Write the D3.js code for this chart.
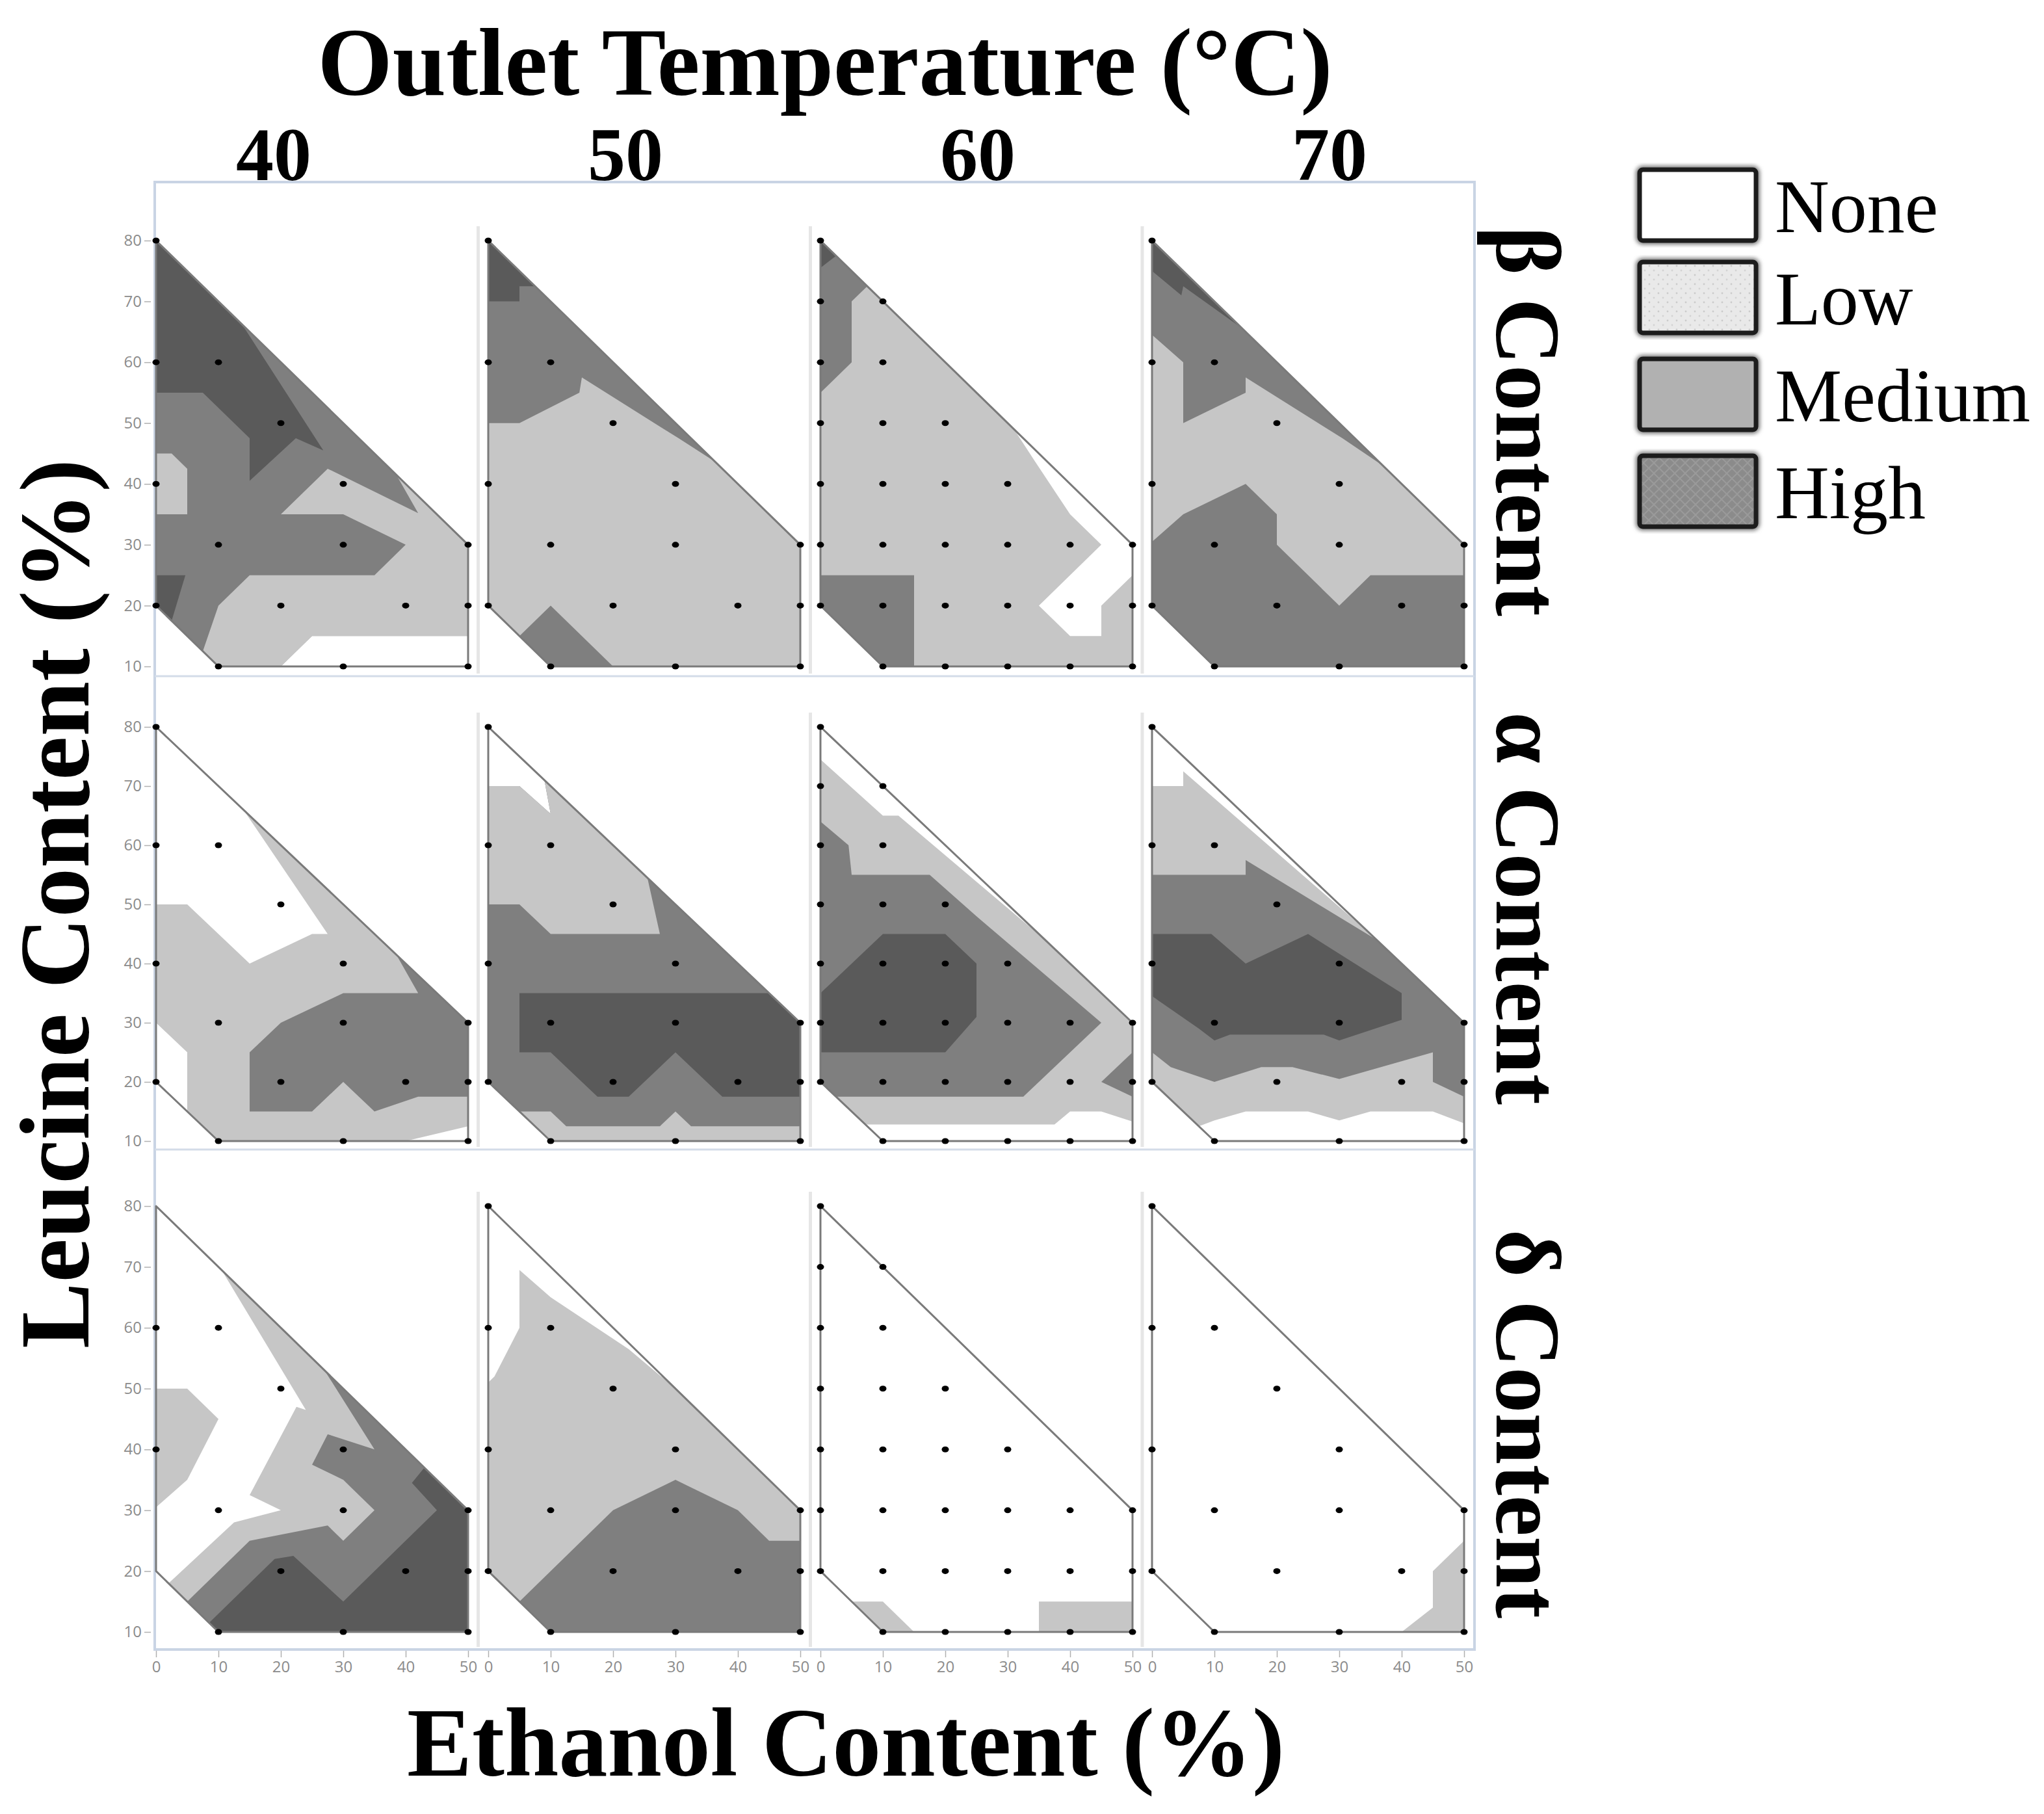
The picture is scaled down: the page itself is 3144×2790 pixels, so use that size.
<!DOCTYPE html>
<html>
<head>
<meta charset="utf-8">
<script src="https://cdn.jsdelivr.net/npm/d3@7"></script>
<style>
  body { margin: 0; background: #fff; }
</style>
</head>
<body>
<div id="chart"></div>
<script>
// ---- data ----
var levels = ["None", "Low", "Medium", "High"];
var temperatures = ["40", "50", "60", "70"];
var contents = ["\u03b2 Content", "\u03b1 Content", "\u03b4 Content"];
var ethanolTicks = [0, 10, 20, 30, 40, 50];
var leucineTicks = [10, 20, 30, 40, 50, 60, 70, 80];

// feasible design region (ethanol %, leucine %)
var feasibleRegion = [[0,80],[50,30],[50,10],[10,10],[0,20]];

// design points
var designSparse = [[0,80],[0,60],[10,60],[20,50],[0,40],[30,40],[10,30],[30,30],[50,30],
                    [0,20],[20,20],[40,20],[50,20],[10,10],[30,10],[50,10]];
var designDelta40 = [[0,60],[10,60],[20,50],[0,40],[30,40],[10,30],[30,30],[50,30],
                     [20,20],[40,20],[50,20],[10,10],[30,10],[50,10]];
var designFull = [[0,80],[0,70],[10,70],[0,60],[10,60],[0,50],[10,50],[20,50],
                  [0,40],[10,40],[20,40],[30,40],
                  [0,30],[10,30],[20,30],[30,30],[40,30],[50,30],
                  [0,20],[10,20],[20,20],[30,20],[40,20],[50,20],
                  [10,10],[20,10],[30,10],[40,10],[50,10]];

// contour layers, painted in order: [level, polygon]
var beta40 = [
  ["Medium", feasibleRegion],
  ["Low", [[27.5,42.5],[20,35],[30,35],[40,30],[35,25],[15,25],[10,20],[7.5,12.5],[10,10],[20,10],[25,15],[50,15],[50,30],[38.5,41.5],[42,35.2]]],
  ["Low", [[0,45],[2.5,45],[5,42.5],[5,35],[0,35]]],
  ["None", [[20,10],[25,15],[50,15],[50,10]]],
  ["High", [[0,80],[13.8,66.2],[26.8,45.5],[22.4,47.5],[15,40.5],[15,47.5],[7.5,55],[0,55]]],
  ["High", [[0,25],[4.7,25],[2.5,17.5],[0,20]]]
];
var beta50 = [
  ["Low", feasibleRegion],
  ["Medium", [[0,80],[36.4,43.6],[30.5,47.5],[15,57.5],[14.6,55],[5,50],[0,50]]],
  ["High", [[0,80],[7.5,72.5],[5,72.5],[5,70],[0,70]]],
  ["Medium", [[5,15],[10,20],[20,10],[10,10]]]
];
var beta60 = [
  ["Low", feasibleRegion],
  ["Medium", [[0,80],[7.5,72.5],[5,70],[5,60],[0,55]]],
  ["High", [[0,80],[0,75.5],[2.5,77.5]]],
  ["Medium", [[0,25],[15,25],[15,10],[10,10],[0,20]]],
  ["None", [[31,49],[34.5,43.5],[40,35],[45,30],[35,20],[40,15],[45,15],[45,20],[50,25],[50,30]]]
];
var beta70 = [
  ["Medium", feasibleRegion],
  ["Low", [[0,64.5],[5,60],[5,50],[15,55],[15,57.5],[30.5,47.5],[37,43],[50,30],[50,25],[35,25],[30,20],[20,30],[20,35],[15,40],[5,35],[0,30.5]]],
  ["High", [[0,80],[0,75],[4.7,71],[5,72.5],[14.4,65.6]]]
];
var alpha40 = [
  ["None", feasibleRegion],
  ["Low", [[0,50],[5,50],[15,40],[25,45],[27.5,45],[14,66],[50,30],[50,12.5],[40,10],[10,10],[5,15],[5,25],[0,30]]],
  ["Medium", [[38.5,41.5],[42,35],[30,35],[20,30],[15,25],[15,15],[25,15],[30,20],[35,15],[42,17.5],[50,17.5],[50,30]]]
];
var alpha50 = [
  ["Medium", feasibleRegion],
  ["None", [[0,80],[0,70],[5,70],[10,65.3],[9,71]]],
  ["Low", [[0,70],[5,70],[10,65.3],[9,71],[25.5,54.5],[27.5,45],[10,45],[5,50],[0,50]]],
  ["High", [[5,35],[45,35],[50,30],[50,17.5],[37.5,17.5],[30,25],[22.5,17.5],[17.5,17.5],[10,25],[5,25]]],
  ["Low", [[5,15],[10,15],[12.5,12.5],[27.5,12.5],[30,15],[32.5,12.5],[50,12.5],[50,10],[10,10]]]
];
var alpha60 = [
  ["None", feasibleRegion],
  ["Low", [[0,74.5],[10,65],[12.5,65],[36,44],[50,30],[50,13.3],[45,15],[40,15],[37.5,12.8],[7.2,12.8],[0,20]]],
  ["Medium", [[0,64],[4.5,60],[5,55],[17.5,55],[25,48],[45,30],[32.5,17.5],[2.5,17.5],[0,20]]],
  ["Medium", [[45,20],[50,25],[50,17.5]]],
  ["High", [[0,35],[10,45],[20,45],[25,40],[25,31],[20,25],[0,25]]]
];
var alpha70 = [
  ["None", feasibleRegion],
  ["Low", [[0,70],[5,70],[5,72.5],[35,45],[50,30],[50,13],[45,15],[35,15],[30,13.5],[25,15],[15,15],[10,13.5],[7.5,12.5],[0,20]]],
  ["Medium", [[0,55],[15,55],[15,57.5],[36,44],[50,30],[50,17.5],[45,20],[45,25],[30,20.5],[22.5,22.5],[17.5,22.5],[10,20],[3,22.5],[0,25]]],
  ["High", [[0,45],[9.5,45],[15,40],[25,45],[40,35],[40,30.5],[30,27],[27.5,28],[12.5,28],[10,27],[7.5,29],[0,34.5]]]
];
var delta40 = [
  ["None", feasibleRegion],
  ["Low", [[0,50],[5,50],[10,45],[5,35],[0,30.5]]],
  ["Low", [[10.5,69.5],[24,46.5],[22.5,47],[15,32.5],[20,30],[12.5,28],[2,18],[10,10],[50,10],[50,30]]],
  ["Medium", [[27,53],[35,40],[27.5,42.5],[25,37.5],[30,35],[35,30],[30,25],[27.5,27.5],[15,25],[5,15],[10,10],[50,10],[50,30]]],
  ["High", [[8.5,11.5],[19,22],[22,22.5],[30,15],[45,30],[41,34.5],[43,37],[50,30],[50,10],[10,10]]]
];
var delta50 = [
  ["None", feasibleRegion],
  ["Low", [[0,51],[1,52],[5,60],[5,69.5],[10,65],[22.5,56.5],[30,50],[50,30],[50,10],[10,10],[0,20]]],
  ["Medium", [[5,15],[20,30],[30,35],[40,30],[45,25],[50,25],[50,10],[10,10]]]
];
var delta60 = [
  ["None", feasibleRegion],
  ["Low", [[5,15],[10,15],[15,10],[10,10]]],
  ["Low", [[35,15],[50,15],[50,10],[35,10]]]
];
var delta70 = [
  ["None", feasibleRegion],
  ["Low", [[40,10],[45,14],[45,20],[50,25],[50,10]]]
];

var panelLayers = [
  [beta40, beta50, beta60, beta70],
  [alpha40, alpha50, alpha60, alpha70],
  [delta40, delta50, delta60, delta70]
];
var panelDesigns = [
  [designSparse, designSparse, designFull, designSparse],
  [designSparse, designSparse, designFull, designSparse],
  [designDelta40, designSparse, designFull, designSparse]
];

// ---- styles / layout ----
var fillByLevel = { None: "#ffffff", Low: "#c6c6c6", Medium: "#7f7f7f", High: "#5a5a5a" };
var serif = "'Liberation Serif', 'Times New Roman', serif";
var colX0 = [240, 751, 1262, 1772];
var panelW = 480;
var rowY = [[370, 1025], [1118, 1755], [1855, 2510]];   // pixel y of leucine 80 and 10
var frame = { left: 238, right: 2268, top: 280, bottom: 2537 };
var rowLines = [1040, 1768];

var svg = d3.select("#chart")
    .append("svg")
    .attr("width", 3144)
    .attr("height", 2790)
    .style("background", "#fff");

var defs = svg.append("defs");

var lowPat = defs.append("pattern").attr("id", "lowPat")
    .attr("patternUnits", "userSpaceOnUse").attr("width", 14).attr("height", 14);
lowPat.append("rect").attr("width", 14).attr("height", 14).attr("fill", "#e9e9e9");
lowPat.append("circle").attr("cx", 3).attr("cy", 3).attr("r", 1.4).attr("fill", "#cbcbcb");
lowPat.append("circle").attr("cx", 10).attr("cy", 10).attr("r", 1.4).attr("fill", "#d3d3d3");

var highPat = defs.append("pattern").attr("id", "highPat")
    .attr("patternUnits", "userSpaceOnUse").attr("width", 16).attr("height", 16);
highPat.append("rect").attr("width", 16).attr("height", 16).attr("fill", "#8b8b8b");
highPat.append("path").attr("d", "M0,8 L8,0 L16,8 L8,16 Z")
    .attr("fill", "none").attr("stroke", "#9a9a9a").attr("stroke-width", 2);

defs.append("filter").attr("id", "soft")
    .attr("x", "-10%").attr("y", "-10%").attr("width", "120%").attr("height", "120%")
    .append("feGaussianBlur").attr("stdDeviation", 3);

var legendFill = { None: "#ffffff", Low: "url(#lowPat)", Medium: "#b1b1b1", High: "url(#highPat)" };

// outer frame and row separators
svg.append("rect")
    .attr("x", frame.left).attr("y", frame.top)
    .attr("width", frame.right - frame.left).attr("height", frame.bottom - frame.top)
    .attr("fill", "none").attr("stroke", "#c9d4e4").attr("stroke-width", 4);

svg.selectAll(".rowline")
    .data(rowLines)
    .enter()
    .append("line")
    .attr("x1", frame.left).attr("x2", frame.right)
    .attr("y1", function(d) { return d; }).attr("y2", function(d) { return d; })
    .attr("stroke", "#d3dce8").attr("stroke-width", 3);

// faint column separators inside each row
rowY.forEach(function(ry, r) {
    var bottom = r < 2 ? rowLines[r] : frame.bottom;
    [1, 2, 3].forEach(function(c) {
        var xs = (colX0[c - 1] + panelW + colX0[c]) / 2;
        svg.append("line")
            .attr("x1", xs).attr("x2", xs)
            .attr("y1", ry[0] - 22).attr("y2", bottom - 4)
            .attr("stroke", "#e6e6e6").attr("stroke-width", 5);
    });
});

var line = d3.line()
    .x(function(d) { return d.x; })
    .y(function(d) { return d.y; })
    .curve(d3.curveLinearClosed);

panelLayers.forEach(function(rowPanels, r) {
    rowPanels.forEach(function(layers, c) {
        var x = d3.scaleLinear().domain([0, 50]).range([colX0[c], colX0[c] + panelW]);
        var y = d3.scaleLinear().domain([10, 80]).range([rowY[r][1], rowY[r][0]]);
        var toPx = function(pts) {
            return line(pts.map(function(p) { return { x: x(p[0]), y: y(p[1]) }; }));
        };

        var clipId = "clip-" + r + "-" + c;
        defs.append("clipPath").attr("id", clipId)
            .append("path").attr("d", toPx(feasibleRegion));

        var g = svg.append("g").attr("clip-path", "url(#" + clipId + ")");
        g.selectAll(".layer")
            .data(layers)
            .enter()
            .append("path")
            .attr("class", "layer")
            .attr("d", function(d) { return toPx(d[1]); })
            .attr("fill", function(d) { return fillByLevel[d[0]]; });

        svg.append("path")
            .attr("d", toPx(feasibleRegion))
            .attr("fill", "none")
            .attr("stroke", "#7a7a7a")
            .attr("stroke-width", 3)
            .attr("stroke-linejoin", "round");

        svg.append("g").selectAll("ellipse")
            .data(panelDesigns[r][c])
            .enter()
            .append("ellipse")
            .attr("cx", function(d) { return x(d[0]); })
            .attr("cy", function(d) { return y(d[1]); })
            .attr("rx", 5.5)
            .attr("ry", 4.5)
            .attr("fill", "#000");

        if (c === 0) {
            var ya = svg.append("g")
                .attr("transform", "translate(" + (colX0[0] - 8) + ",0)")
                .call(d3.axisLeft(y).tickValues(leucineTicks).tickSize(10).tickPadding(4));
            ya.select(".domain").remove();
            ya.selectAll("line").attr("stroke", "#b0b0b0").attr("stroke-width", 1.5);
            ya.selectAll("text").attr("fill", "#8c8c8c")
                .style("font-family", "'Open Sans', sans-serif").style("font-size", "24px");
        }
        if (r === 2) {
            var xa = svg.append("g")
                .attr("transform", "translate(0," + (frame.bottom + 2) + ")")
                .call(d3.axisBottom(x).tickValues(ethanolTicks).tickSize(10).tickPadding(6));
            xa.select(".domain").remove();
            xa.selectAll("line").attr("stroke", "#b0b0b0").attr("stroke-width", 1.5);
            xa.selectAll("text").attr("fill", "#8c8c8c")
                .style("font-family", "'Open Sans', sans-serif").style("font-size", "24px");
        }
    });
});

// titles
svg.append("text")
    .attr("x", 1269).attr("y", 146)
    .attr("text-anchor", "middle")
    .style("font-family", serif).style("font-weight", "bold").style("font-size", "148px")
    .text("Outlet Temperature (\u00b0C)");

var colLabelX = [421, 962, 1504, 2045];
svg.selectAll(".coltitle")
    .data(temperatures)
    .enter()
    .append("text")
    .attr("x", function(d, i) { return colLabelX[i]; })
    .attr("y", 277)
    .attr("text-anchor", "middle")
    .style("font-family", serif).style("font-weight", "bold").style("font-size", "116px")
    .text(function(d) { return d; });

var rowLabelY = [648, 1397, 2190];
svg.selectAll(".rowtitle")
    .data(contents)
    .enter()
    .append("text")
    .attr("transform", function(d, i) { return "translate(2302," + rowLabelY[i] + ") rotate(90)"; })
    .attr("text-anchor", "middle")
    .style("font-family", serif).style("font-weight", "bold").style("font-size", "142px")
    .text(function(d) { return d; });

svg.append("text")
    .attr("transform", "translate(136,1390) rotate(-90)")
    .attr("text-anchor", "middle")
    .style("font-family", serif).style("font-weight", "bold").style("font-size", "152px")
    .text("Leucine Content (%)");

svg.append("text")
    .attr("x", 1301).attr("y", 2731)
    .attr("text-anchor", "middle")
    .style("font-family", serif).style("font-weight", "bold").style("font-size", "150px")
    .text("Ethanol Content (%)");

// legend
var legendY = [261, 403, 552, 701];
var legend = svg.append("g");
legend.selectAll(".shadow")
    .data(levels)
    .enter()
    .append("rect")
    .attr("class", "shadow")
    .attr("x", 2522)
    .attr("y", function(d, i) { return legendY[i]; })
    .attr("width", 179)
    .attr("height", 109)
    .attr("rx", 5)
    .attr("fill", "none")
    .attr("stroke", "#777")
    .attr("stroke-width", 12)
    .attr("filter", "url(#soft)");
legend.selectAll(".box")
    .data(levels)
    .enter()
    .append("rect")
    .attr("class", "box")
    .attr("x", 2522)
    .attr("y", function(d, i) { return legendY[i]; })
    .attr("width", 179)
    .attr("height", 109)
    .attr("rx", 5)
    .attr("fill", function(d) { return legendFill[d]; })
    .attr("stroke", "#1c1c1c")
    .attr("stroke-width", 7);
legend.selectAll("text")
    .data(levels)
    .enter()
    .append("text")
    .attr("x", 2730)
    .attr("y", function(d, i) { return legendY[i] + 96; })
    .style("font-family", serif).style("font-size", "116px")
    .text(function(d) { return d; });
</script>
</body>
</html>
